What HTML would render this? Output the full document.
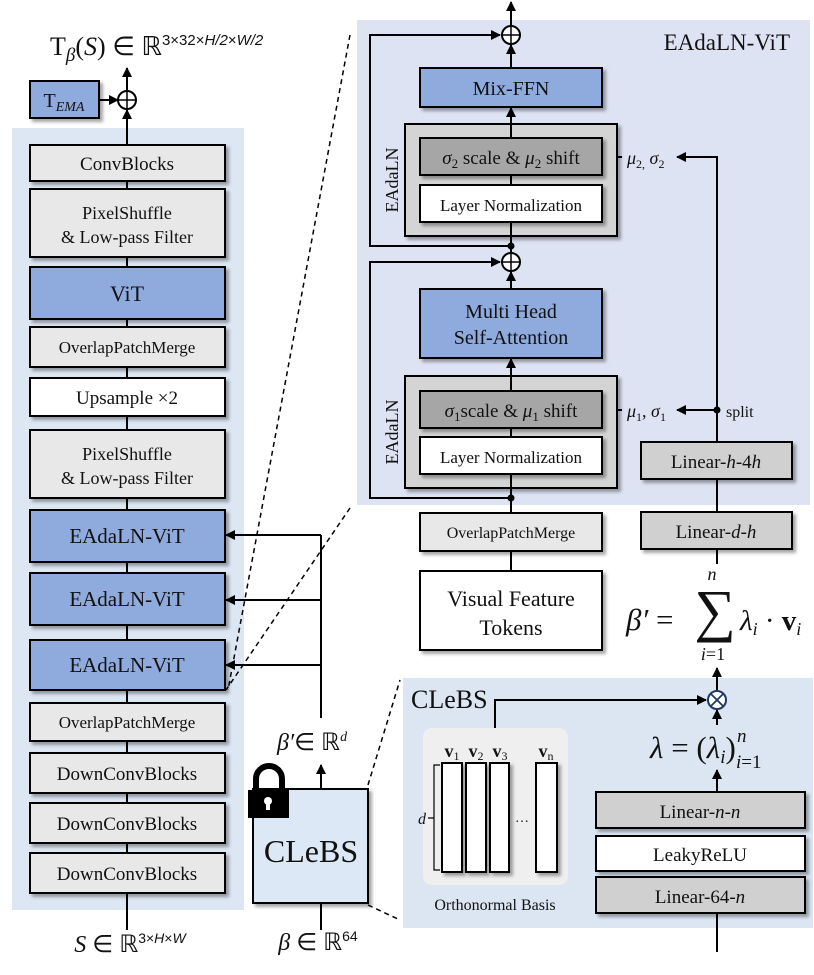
<!DOCTYPE html>
<html><head><meta charset="utf-8"><style>
body{margin:0;background:#fff}
svg{display:block}
text{font-family:"Liberation Serif",serif;fill:#111}
</style></head><body>
<svg width="814" height="975" viewBox="0 0 814 975" xmlns="http://www.w3.org/2000/svg">
<defs>
<filter id="sh" x="-10%" y="-10%" width="130%" height="140%"><feDropShadow dx="3" dy="3" stdDeviation="1.5" flood-color="#000" flood-opacity="0.35"/></filter>
<marker id="ar" viewBox="0 0 10 10" refX="9" refY="5" markerWidth="5" markerHeight="5" orient="auto"><path d="M0,0L10,5L0,10z" fill="#000"/></marker>
</defs>
<rect x="12" y="128" width="232" height="782" fill="#dde6f3"/>
<rect x="357" y="20" width="453" height="485" fill="#dde3f3"/>
<rect x="403" y="678" width="410" height="250" fill="#dce6f3"/>

<g stroke="#000" stroke-width="1.5" stroke-dasharray="5,4" fill="none">
<line x1="350" y1="35" x2="228" y2="690"/>
<line x1="350" y1="508" x2="226" y2="690"/>
<line x1="368" y1="785" x2="400" y2="680"/>
<line x1="368" y1="905" x2="400" y2="920"/>
</g>

<g stroke="#000" stroke-width="2" fill="none">
<line x1="127" y1="145" x2="127" y2="110" marker-end="url(#ar)"/>
<line x1="127" y1="90" x2="127" y2="68" marker-end="url(#ar)"/>
<line x1="99" y1="100" x2="118" y2="100" marker-end="url(#ar)"/>
<line x1="127" y1="180" x2="127" y2="893"/>
<line x1="127" y1="893" x2="127" y2="930"/>
<line x1="321" y1="718" x2="321" y2="535"/>
<line x1="321" y1="535" x2="226" y2="535" marker-end="url(#ar)"/>
<line x1="321" y1="600" x2="226" y2="600" marker-end="url(#ar)"/>
<line x1="321" y1="665" x2="226" y2="665" marker-end="url(#ar)"/>
<line x1="321" y1="789" x2="321" y2="765" marker-end="url(#ar)"/>
<line x1="321" y1="903" x2="321" y2="930"/>
</g>
<circle cx="127" cy="100" r="9" fill="none" stroke="#000" stroke-width="2"/>
<line x1="118" y1="100" x2="136" y2="100" stroke="#000" stroke-width="1.5"/>
<line x1="127" y1="91" x2="127" y2="109" stroke="#000" stroke-width="1.5"/>

<text x="50" y="55" font-size="26">T<tspan font-style="italic" font-size="19" dy="6">β</tspan><tspan dy="-6">(</tspan><tspan font-style="italic">S</tspan>) ∈ ℝ<tspan font-size="15" dy="-10" font-family="Liberation Sans">3×32×</tspan><tspan font-size="15" font-style="italic" font-family="Liberation Sans">H/2</tspan><tspan font-size="15" font-family="Liberation Sans">×</tspan><tspan font-size="15" font-style="italic" font-family="Liberation Sans">W/2</tspan></text>

<g filter="url(#sh)" stroke="#000" stroke-width="2">
<rect x="30" y="81" width="69" height="37" fill="#8faadc"/>
<rect x="30" y="145" width="195" height="36" fill="#e8e8e8"/>
<rect x="30" y="189" width="195" height="68" fill="#e8e8e8"/>
<rect x="30" y="267" width="195" height="52" fill="#8faadc"/>
<rect x="30" y="327" width="195" height="40" fill="#e8e8e8"/>
<rect x="30" y="378" width="195" height="38" fill="#fff"/>
<rect x="30" y="430" width="195" height="68" fill="#e8e8e8"/>
<rect x="30" y="510" width="195" height="52" fill="#8faadc"/>
<rect x="30" y="573" width="195" height="52" fill="#8faadc"/>
<rect x="30" y="640" width="195" height="50" fill="#8faadc"/>
<rect x="30" y="703" width="195" height="38" fill="#e8e8e8"/>
<rect x="30" y="753" width="195" height="40" fill="#e8e8e8"/>
<rect x="30" y="803" width="195" height="40" fill="#e8e8e8"/>
<rect x="30" y="853" width="195" height="40" fill="#e8e8e8"/>
<rect x="253" y="789" width="115" height="114" fill="#dce8f5"/>
</g>
<g text-anchor="middle" font-size="19">
<text x="64" y="107" font-size="20">T<tspan font-style="italic" font-size="14" dy="4">EMA</tspan></text>
<text x="127" y="170">ConvBlocks</text>
<text x="127" y="219" font-size="18">PixelShuffle</text>
<text x="127" y="243" font-size="18">&amp; Low-pass Filter</text>
<text x="127" y="301" font-size="22">ViT</text>
<text x="127" y="353" font-size="17">OverlapPatchMerge</text>
<text x="127" y="404">Upsample ×2</text>
<text x="127" y="460" font-size="18">PixelShuffle</text>
<text x="127" y="484" font-size="18">&amp; Low-pass Filter</text>
<text x="127" y="543" font-size="21">EAdaLN-ViT</text>
<text x="127" y="606" font-size="21">EAdaLN-ViT</text>
<text x="127" y="672" font-size="21">EAdaLN-ViT</text>
<text x="127" y="728" font-size="17">OverlapPatchMerge</text>
<text x="127" y="780">DownConvBlocks</text>
<text x="127" y="830">DownConvBlocks</text>
<text x="127" y="880">DownConvBlocks</text>
<text x="311" y="862" font-size="32">CLeBS</text>
<text x="130" y="952" font-size="24"><tspan font-style="italic">S</tspan> ∈ ℝ<tspan font-size="14" dy="-9" font-family="Liberation Sans">3×<tspan font-style="italic">H</tspan>×<tspan font-style="italic">W</tspan></tspan></text>
<text x="318" y="950" font-size="24"><tspan font-style="italic">β</tspan> ∈ ℝ<tspan font-size="14" dy="-9" font-family="Liberation Sans">64</tspan></text>
<text x="312" y="750" font-size="24"><tspan font-style="italic">β′</tspan>∈ ℝ<tspan font-size="14" dy="-9" font-style="italic">d</tspan></text>
</g>
<path d="M256,790 V779 A13,13 0 0 1 282,779 V790" fill="none" stroke="#000" stroke-width="6"/>
<rect x="248" y="790" width="41" height="28" fill="#000"/>
<circle cx="268" cy="801" r="4" fill="#fff"/><rect x="266" y="802" width="4" height="8" fill="#fff"/>

<text x="790" y="50" font-size="23" text-anchor="end">EAdaLN-ViT</text>
<g stroke="#000" stroke-width="2" fill="none">
<line x1="511" y1="26" x2="511" y2="2" marker-end="url(#ar)"/>
<line x1="511" y1="68" x2="511" y2="45" marker-end="url(#ar)"/>
<line x1="511" y1="124" x2="511" y2="108" marker-end="url(#ar)"/>
<line x1="511" y1="236" x2="511" y2="253"/>
<polyline points="511,246 370,246 370,35 500,35" marker-end="url(#ar)"/>
<line x1="511" y1="289" x2="511" y2="272" marker-end="url(#ar)"/>
<polyline points="511,498 370,498 370,262 500,262" marker-end="url(#ar)"/>
<line x1="511" y1="376" x2="511" y2="359" marker-end="url(#ar)"/>
<line x1="511" y1="488" x2="511" y2="513"/>
<line x1="511" y1="551" x2="511" y2="571"/>
<polyline points="717,442 717,157 677,157" marker-end="url(#ar)"/>
<line x1="717" y1="410" x2="677" y2="410" marker-end="url(#ar)"/>
<line x1="622" y1="157" x2="603" y2="157" marker-end="url(#ar)"/>
<line x1="622" y1="410" x2="603" y2="410" marker-end="url(#ar)"/>
<line x1="717" y1="479" x2="717" y2="512"/>
<line x1="717" y1="549" x2="717" y2="564"/>
<line x1="717" y1="690" x2="717" y2="668" marker-end="url(#ar)"/>
<line x1="717" y1="792" x2="717" y2="770" marker-end="url(#ar)"/>
<line x1="717" y1="725" x2="717" y2="710" marker-end="url(#ar)"/>
<polyline points="495,728 495,700 706,700" marker-end="url(#ar)"/>
<line x1="717" y1="913" x2="717" y2="952"/>
</g>
<circle cx="511" cy="246" r="3.5"/><circle cx="511" cy="498" r="3.5"/><circle cx="717" cy="410" r="3.5"/>
<g fill="#fff" stroke="#000" stroke-width="2">
<circle cx="511" cy="35" r="9"/><circle cx="511" cy="262" r="9"/>
</g>
<g stroke="#000" stroke-width="1.5">
<line x1="502" y1="35" x2="520" y2="35"/><line x1="511" y1="26" x2="511" y2="44"/>
<line x1="502" y1="262" x2="520" y2="262"/><line x1="511" y1="253" x2="511" y2="271"/>
</g>
<circle cx="717" cy="700" r="9" fill="#fff" stroke="#1f3864" stroke-width="2"/>
<g stroke="#1f3864" stroke-width="1.8"><line x1="711" y1="694" x2="723" y2="706"/><line x1="723" y1="694" x2="711" y2="706"/></g>

<g stroke="#000" stroke-width="2">
<rect x="405" y="124" width="212" height="112" fill="#d4d4d4" filter="url(#sh)"/>
<rect x="405" y="376" width="212" height="112" fill="#d4d4d4" filter="url(#sh)"/>
<g filter="url(#sh)">
<rect x="420" y="68" width="182" height="39" fill="#8faadc"/>
<rect x="420" y="138" width="182" height="37" fill="#a6a6a6"/>
<rect x="420" y="185" width="182" height="37" fill="#fff"/>
<rect x="420" y="289" width="182" height="69" fill="#8faadc"/>
<rect x="420" y="391" width="182" height="37" fill="#a6a6a6"/>
<rect x="420" y="437" width="182" height="37" fill="#fff"/>
<rect x="641" y="442" width="151" height="37" fill="#d0d0d0"/>
<rect x="641" y="512" width="151" height="37" fill="#d0d0d0"/>
<rect x="420" y="513" width="182" height="38" fill="#e8e8e8"/>
<rect x="420" y="571" width="182" height="79" fill="#fff"/>
<rect x="596" y="792" width="209" height="36" fill="#d0d0d0"/>
<rect x="596" y="836" width="209" height="35" fill="#fff"/>
<rect x="596" y="877" width="209" height="36" fill="#d0d0d0"/>
</g>
</g>
<g stroke="#000" stroke-width="2">
<line x1="511" y1="175" x2="511" y2="185"/>
<line x1="511" y1="428" x2="511" y2="437"/>
<line x1="511" y1="124" x2="511" y2="138"/>
<line x1="511" y1="222" x2="511" y2="236"/>
<line x1="511" y1="376" x2="511" y2="391"/>
<line x1="511" y1="474" x2="511" y2="488"/>
</g>

<g text-anchor="middle" font-size="19">
<text x="511" y="95" font-size="20">Mix-FFN</text>
<text x="511" y="164" font-size="19"><tspan font-style="italic">σ</tspan><tspan font-size="13" dy="4">2</tspan><tspan font-size="19" dy="-4"> scale &amp; </tspan><tspan font-size="19" font-style="italic">μ</tspan><tspan font-size="13" dy="4">2</tspan><tspan font-size="19" dy="-4"> shift</tspan></text>
<text x="511" y="211" font-size="17">Layer Normalization</text>
<text x="511" y="318" font-size="20">Multi Head</text>
<text x="511" y="344" font-size="20">Self-Attention</text>
<text x="511" y="417" font-size="19"><tspan font-style="italic">σ</tspan><tspan font-size="13" dy="4">1</tspan><tspan font-size="19" dy="-4">scale &amp; </tspan><tspan font-size="19" font-style="italic">μ</tspan><tspan font-size="13" dy="4">1</tspan><tspan font-size="19" dy="-4"> shift</tspan></text>
<text x="511" y="463" font-size="17">Layer Normalization</text>
<text x="716" y="468" font-size="19">Linear-<tspan font-style="italic">h</tspan>-4<tspan font-style="italic">h</tspan></text>
<text x="716" y="538" font-size="19">Linear-<tspan font-style="italic">d</tspan>-<tspan font-style="italic">h</tspan></text>
<text x="511" y="538" font-size="16">OverlapPatchMerge</text>
<text x="511" y="606" font-size="22">Visual Feature</text>
<text x="511" y="635" font-size="22">Tokens</text>
<text x="700" y="818" font-size="19">Linear-<tspan font-style="italic">n</tspan>-<tspan font-style="italic">n</tspan></text>
<text x="700" y="861" font-size="19">LeakyReLU</text>
<text x="700" y="903" font-size="19">Linear-64-<tspan font-style="italic">n</tspan></text>
</g>
<text x="627" y="164" font-size="18"><tspan font-style="italic">μ</tspan><tspan font-size="12" dy="4">2,</tspan><tspan font-size="18" dy="-4" font-style="italic"> σ</tspan><tspan font-size="12" dy="4">2</tspan></text>
<text x="627" y="417" font-size="18"><tspan font-style="italic">μ</tspan><tspan font-size="12" dy="4">1</tspan><tspan font-size="18" dy="-4">, </tspan><tspan font-size="18" font-style="italic">σ</tspan><tspan font-size="12" dy="4">1</tspan></text>
<text x="726" y="417" font-size="16">split</text>
<text transform="translate(398,180) rotate(-90)" text-anchor="middle" font-size="18">EAdaLN</text>
<text transform="translate(398,432) rotate(-90)" text-anchor="middle" font-size="18">EAdaLN</text>

<text x="626" y="630" font-size="31"><tspan font-style="italic">β′</tspan> =</text>
<text x="715" y="630" font-size="58" text-anchor="middle">∑</text>
<text x="712" y="580" font-size="18" font-style="italic" text-anchor="middle">n</text>
<text x="713" y="660" font-size="18" text-anchor="middle"><tspan font-style="italic">i</tspan>=1</text>
<text x="740" y="630" font-size="29"><tspan font-style="italic">λ</tspan><tspan font-size="18" font-style="italic" dy="5">i</tspan><tspan font-size="29" dy="-5"> · </tspan><tspan font-size="29" font-weight="bold">v</tspan><tspan font-size="18" font-style="italic" dy="5">i</tspan></text>

<text x="411" y="708" font-size="26">CLeBS</text>
<rect x="423" y="728" width="145" height="157" rx="9" fill="#efefef"/>
<g fill="#fff" stroke="#000" stroke-width="2" filter="url(#sh)">
<rect x="442" y="763" width="20" height="109"/>
<rect x="466" y="763" width="20" height="109"/>
<rect x="490" y="763" width="19" height="109"/>
<rect x="536" y="763" width="21" height="109"/>
</g>
<path d="M440,765 H434 V870 H440 M434,818 H428" fill="none" stroke="#000" stroke-width="1.2"/>
<text x="418" y="824" font-size="16" font-style="italic">d</text>
<text x="522" y="822" font-size="14" text-anchor="middle">…</text>
<g font-size="18" font-weight="bold" text-anchor="middle">
<text x="452" y="757">v<tspan font-size="12" font-weight="normal" dy="3">1</tspan></text>
<text x="476" y="757">v<tspan font-size="12" font-weight="normal" dy="3">2</tspan></text>
<text x="500" y="757">v<tspan font-size="12" font-weight="normal" dy="3">3</tspan></text>
<text x="546" y="757">v<tspan font-size="12" font-weight="normal" dy="3">n</tspan></text>
</g>
<text x="495" y="910" font-size="16" text-anchor="middle">Orthonormal Basis</text>
<text x="650" y="758" font-size="31"><tspan font-style="italic">λ</tspan> = (<tspan font-style="italic">λ</tspan><tspan font-size="19" font-style="italic" dy="5">i</tspan><tspan font-size="31" dy="-5">)</tspan></text>
<text x="737" y="742" font-size="19" font-style="italic">n</text>
<text x="736" y="768" font-size="19"><tspan font-style="italic">i</tspan>=1</text>
</svg>
</body></html>
